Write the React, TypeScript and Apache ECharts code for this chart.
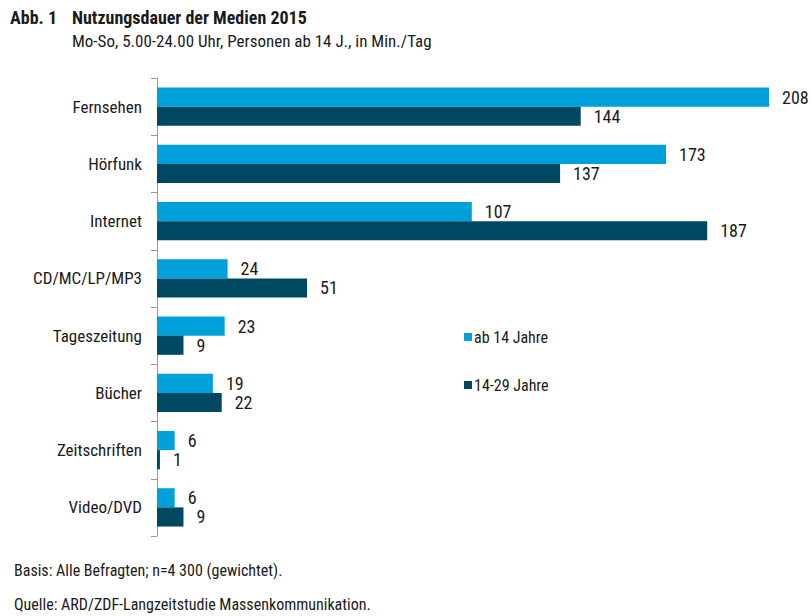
import React, { useEffect, useRef } from "react";
import * as echarts from "echarts";

const categories = ["Fernsehen", "Hörfunk", "Internet", "CD/MC/LP/MP3", "Tageszeitung", "Bücher", "Zeitschriften", "Video/DVD"];
const ab14 = [208, 173, 107, 24, 23, 19, 6, 6];
const j14bis29 = [144, 137, 187, 51, 9, 22, 1, 9];
const seriesNames = ["ab 14 Jahre", "14-29 Jahre"];
const colors = ["#00A1DA", "#004862"];

const FONT = "'Liberation Sans Narrow', 'Arial Narrow', 'Roboto Condensed', 'Liberation Sans', sans-serif";

export default function App() {
  const ref = useRef<HTMLDivElement>(null);
  useEffect(() => {
    if (!ref.current) return;
    const chart = echarts.init(ref.current, undefined, { renderer: "svg" });
    const labelStyle = {
      show: true,
      position: "right" as const,
      distance: 13,
      color: "#1a1a1a",
      fontSize: 18,
      fontFamily: FONT,
    };
    chart.setOption({
      animation: false,
      textStyle: { fontFamily: FONT },
      grid: { left: 157, right: 42, top: 78, height: 458 },
      xAxis: {
        type: "value",
        min: 0,
        max: 208,
        show: false,
      },
      yAxis: {
        type: "category",
        data: categories,
        inverse: true,
        axisLine: { show: true, lineStyle: { color: "#999", width: 1 } },
        axisTick: { show: true, length: 6, lineStyle: { color: "#999" } },
        axisLabel: { color: "#1a1a1a", fontSize: 17, fontFamily: FONT, margin: 15 },
        splitLine: { show: false },
      },
      legend: {
        orient: "vertical",
        left: 459,
        top: 324,
        itemWidth: 8,
        itemHeight: 8,
        itemGap: 32,
        icon: "rect",
        textStyle: { color: "#1a1a1a", fontSize: 16, fontFamily: FONT, padding: [0, 0, 0, -3] },
        data: seriesNames,
      },
      series: [
        {
          name: seriesNames[0],
          type: "bar",
          data: ab14,
          itemStyle: { color: colors[0] },
          barGap: "0%",
          barCategoryGap: "33%",
          label: labelStyle,
        },
        {
          name: seriesNames[1],
          type: "bar",
          data: j14bis29,
          itemStyle: { color: colors[1] },
          barGap: "0%",
          barCategoryGap: "33%",
          label: labelStyle,
        },
      ],
      graphic: [
        { type: "text", left: 10, top: 8, style: { text: "Abb. 1", fontSize: 18, fontWeight: "bold", fill: "#1a1a1a", fontFamily: FONT } },
        { type: "text", left: 72, top: 8, style: { text: "Nutzungsdauer der Medien 2015", fontSize: 18, fontWeight: "bold", fill: "#1a1a1a", fontFamily: FONT } },
        { type: "text", left: 72, top: 32, style: { text: "Mo-So, 5.00-24.00 Uhr, Personen ab 14 J., in Min./Tag", fontSize: 17, fill: "#1a1a1a", fontFamily: FONT } },
        { type: "text", left: 14, top: 562, style: { text: "Basis: Alle Befragten; n=4 300 (gewichtet).", fontSize: 16, fill: "#1a1a1a", fontFamily: FONT } },
        { type: "text", left: 14, top: 596, style: { text: "Quelle: ARD/ZDF-Langzeitstudie Massenkommunikation.", fontSize: 16, fill: "#1a1a1a", fontFamily: FONT } },
      ],
    });
    return () => chart.dispose();
  }, []);
  return <div ref={ref} style={{ width: 811, height: 616, position: "fixed", left: 0, top: 0, background: "#fff" }} />;
}
